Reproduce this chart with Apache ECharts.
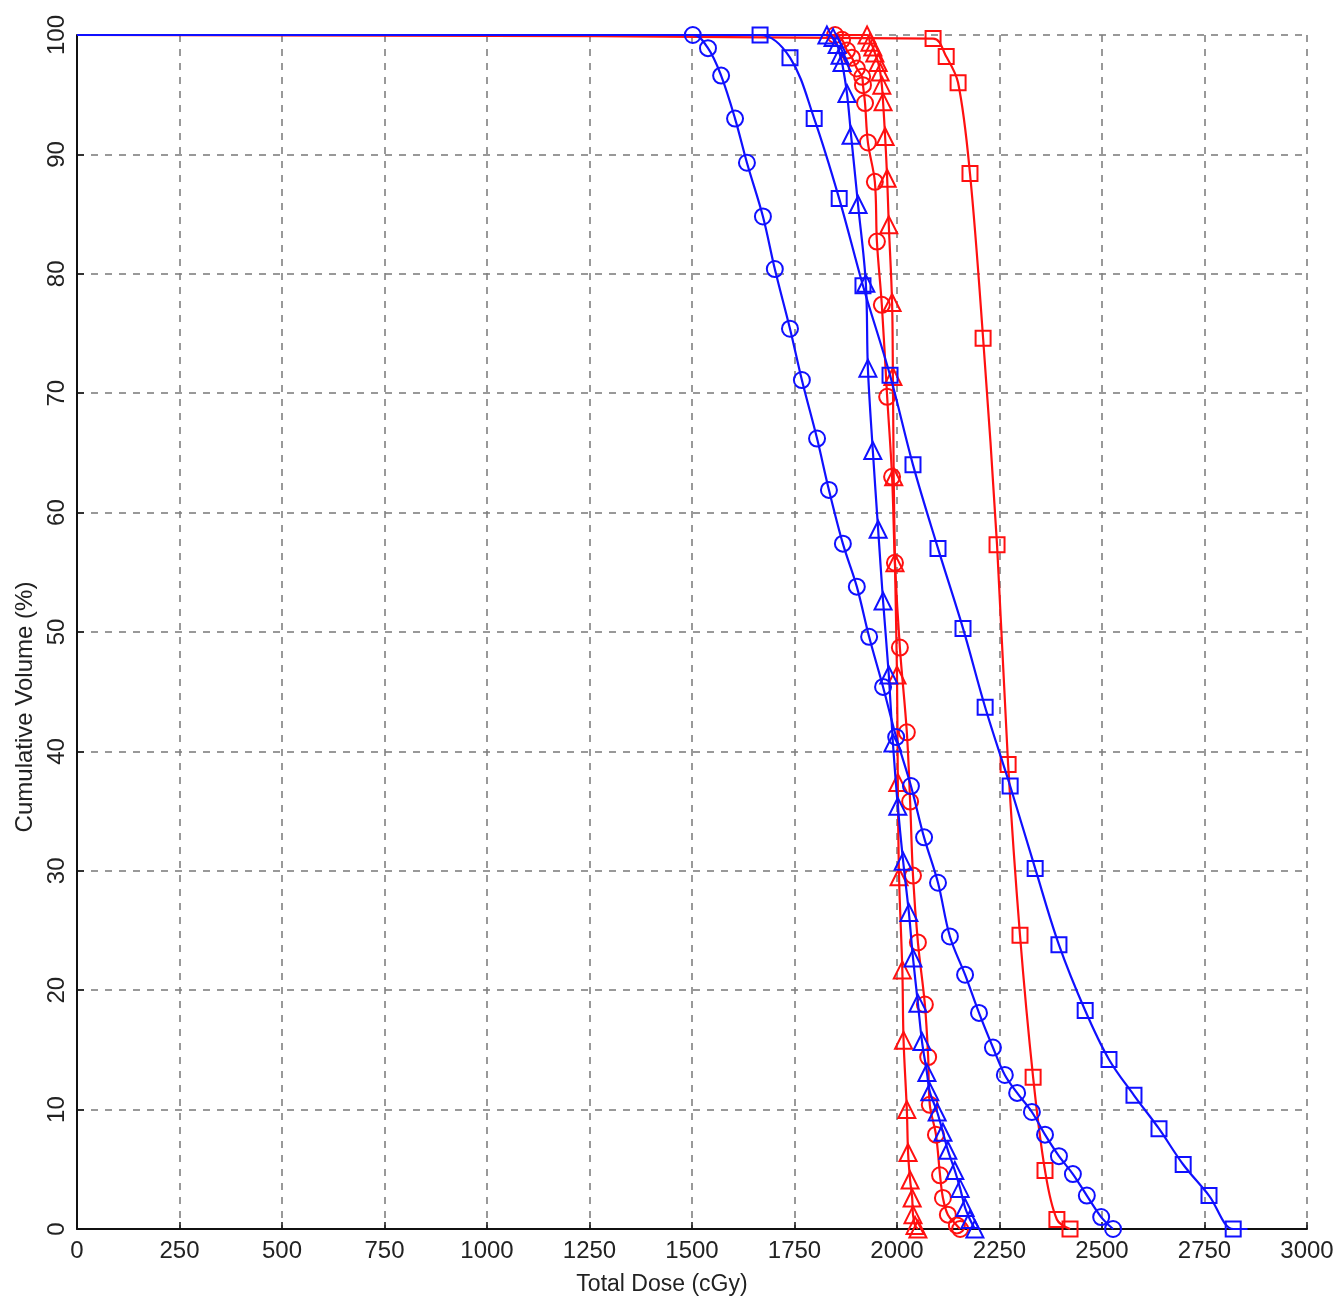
<!DOCTYPE html>
<html>
<head>
<meta charset="utf-8">
<script src="https://cdn.jsdelivr.net/npm/echarts@6/dist/echarts.min.js"></script>
<style>
html,body{margin:0;padding:0;background:#fff;}
#chart{width:1338px;height:1300px;}
</style>
</head>
<body>
<div id="chart"></div>
<script>
// ---- Data (Total Dose in cGy, Cumulative Volume in %) ----
const xTicks = [0,250,500,750,1000,1250,1500,1750,2000,2250,2500,2750,3000];
const yTicks = [0,10,20,30,40,50,60,70,80,90,100];

const blueCircleDose = [1502,1539,1571,1605,1634,1673,1702,1739,1768,1805,1834,1868,1902,1932,1966,1998,2034,2066,2100,2129,2166,2200,2234,2263,2293,2329,2361,2395,2429,2463,2498,2527];
const blueCircleVol  = [100,98.9,96.6,93.0,89.3,84.8,80.4,75.4,71.1,66.2,61.9,57.4,53.8,49.6,45.4,41.2,37.1,32.8,29.0,24.5,21.3,18.1,15.2,12.9,11.4,9.8,7.9,6.1,4.6,2.8,1.0,0];

const blueSquareDose = [1666,1739,1798,1859,1917,1983,2039,2100,2161,2215,2276,2337,2395,2459,2517,2578,2639,2698,2761,2820];
const blueSquareVol  = [100,98.1,93.0,86.3,79.0,71.5,64.0,57.0,50.3,43.7,37.1,30.2,23.8,18.3,14.2,11.2,8.4,5.4,2.8,0];
const blueSquareTailDose = 2855;

const blueTriangleDose = [1829,1844,1854,1861,1866,1878,1888,1905,1924,1929,1941,1954,1966,1980,1990,2002,2015,2029,2039,2051,2061,2073,2080,2098,2112,2124,2141,2154,2166,2178,2190];
const blueTriangleVol  = [100,99.8,99.2,98.3,97.7,95.1,91.6,85.8,79.2,72.1,65.2,58.6,52.6,46.4,40.7,35.4,30.8,26.5,22.7,18.9,15.7,13.1,11.5,9.8,8.1,6.6,4.9,3.4,1.8,0.8,0];

const redCircleDose = [1849,1866,1878,1890,1902,1915,1917,1922,1929,1946,1951,1963,1976,1988,1995,2007,2024,2032,2039,2051,2068,2076,2080,2095,2105,2112,2124,2146,2154];
const redCircleVol  = [100,99.6,98.7,98.1,97.2,96.5,95.8,94.3,91.0,87.7,82.7,77.4,69.7,63.0,55.8,48.7,41.6,35.8,29.6,24.0,18.8,14.4,10.4,7.9,4.5,2.6,1.2,0.3,0];

const redSquareDose = [2088,2120,2149,2178,2210,2244,2271,2300,2332,2361,2390,2422];
const redSquareVol  = [99.7,98.2,96.0,88.4,74.6,57.3,38.9,24.6,12.7,4.9,0.8,0];

const redTriangleDose = [1927,1934,1941,1946,1954,1959,1963,1966,1971,1976,1980,1988,1990,1992,1995,2000,2002,2005,2013,2016,2024,2027,2032,2037,2039,2044,2051];
const redTriangleVol  = [100,99.4,99.0,98.5,97.7,96.9,95.8,94.4,91.5,88.0,84.1,77.6,71.4,63.0,55.8,46.4,37.4,29.5,21.7,15.8,10.0,6.4,4.1,2.6,1.2,0.3,0];

const BLUE = '#1010ff';
const RED = '#ff1010';
const FONT = "'Liberation Sans', Arial, Helvetica, sans-serif";

function buildData(dose, vol, tail) {
  const d = [{value:[0,100], symbol:'none'}];
  dose.forEach((x,i) => d.push({value:[x, vol[i]]}));
  if (tail != null) d.push({value:[tail, 0], symbol:'none'});
  return d;
}

function mkSeries(name, dose, vol, color, symbol, tail, z) {
  return {
    name: name,
    type: 'line',
    data: buildData(dose, vol, tail),
    smooth: 0.35,
    clip: false,
    z: z,
    symbol: symbol,
    symbolSize: symbol === 'triangle' ? 17 : (symbol === 'rect' ? 15 : 16),
    showAllSymbol: true,
    lineStyle: {color: color, width: 2.2},
    itemStyle: {color: 'rgba(0,0,0,0)', borderColor: color, borderWidth: 2},
    emphasis: {disabled: true}
  };
}

const chart = echarts.init(document.getElementById('chart'), null, {renderer:'canvas'});
chart.setOption({
  animation: false,
  backgroundColor: '#ffffff',
  grid: {left: 77, right: 31, top: 35, bottom: 71, containLabel: false},
  xAxis: {
    type: 'value', min: xTicks[0], max: xTicks[xTicks.length-1], interval: 250,
    axisLine: {show: true, onZero: false, lineStyle: {color: '#111', width: 2}},
    axisTick: {show: true, inside: true, length: 7, lineStyle: {color: '#111', width: 1.5}},
    axisLabel: {color: '#222', fontSize: 24, fontFamily: FONT, margin: 10, formatter: v => String(v)},
    splitLine: {show: true, lineStyle: {color: '#808080', width: 1.6, type: [7,7]}}
  },
  yAxis: {
    type: 'value', min: yTicks[0], max: yTicks[yTicks.length-1], interval: 10,
    axisLine: {show: true, onZero: false, lineStyle: {color: '#111', width: 2}},
    axisTick: {show: true, inside: true, length: 7, lineStyle: {color: '#111', width: 1.5}},
    axisLabel: {color: '#222', fontSize: 24, fontFamily: FONT, rotate: 90, margin: 8, formatter: v => String(v)},
    splitLine: {show: true, lineStyle: {color: '#808080', width: 1.6, type: [7,7]}}
  },
  graphic: [
    {type:'text', x: 662, y: 1285, style:{text:'Total Dose (cGy)', fill:'#222', fontSize: 23, fontFamily: FONT, align:'center', verticalAlign:'middle'}},
    {type:'text', x: 25, y: 707, rotation: Math.PI/2, style:{text:'Cumulative Volume (%)', fill:'#222', fontSize: 24, fontFamily: FONT, align:'center', verticalAlign:'middle'}}
  ],
  series: [
    mkSeries('Red squares', redSquareDose, redSquareVol, RED, 'rect', null, 2),
    mkSeries('Red circles', redCircleDose, redCircleVol, RED, 'circle', null, 2),
    mkSeries('Red triangles', redTriangleDose, redTriangleVol, RED, 'triangle', null, 2),
    mkSeries('Blue squares', blueSquareDose, blueSquareVol, BLUE, 'rect', blueSquareTailDose, 3),
    mkSeries('Blue triangles', blueTriangleDose, blueTriangleVol, BLUE, 'triangle', null, 3),
    mkSeries('Blue circles', blueCircleDose, blueCircleVol, BLUE, 'circle', null, 3)
  ]
});
</script>
</body>
</html>
